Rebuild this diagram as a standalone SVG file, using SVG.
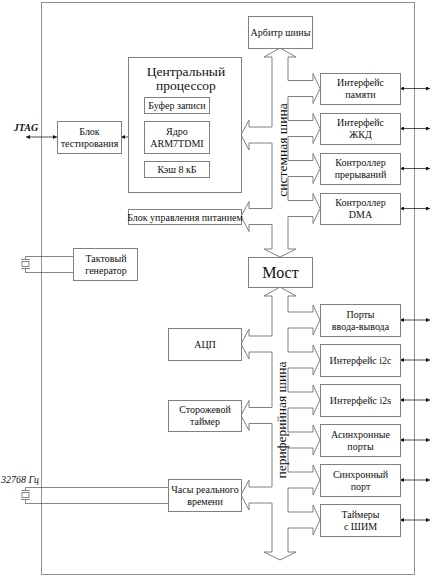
<svg xmlns="http://www.w3.org/2000/svg" width="433" height="578" viewBox="0 0 433 578" font-family="'Liberation Serif', 'DejaVu Serif', serif">
<defs>
<style>
.box{fill:#fff;stroke:#808080;stroke-width:1}
.frame{fill:#fff;stroke:#909090;stroke-width:1}
.bus{fill:#fff;stroke:#808080;stroke-width:1;stroke-linejoin:miter}
text{font-family:'Liberation Serif','DejaVu Serif',serif}
.t{font-size:10px;fill:#111;text-anchor:middle}
.big{font-size:13.5px}
.most{font-size:16px}
.it{font-style:italic;font-size:10px}
.b{font-weight:bold}
.ar{stroke:#222;stroke-width:0.8;fill:none;marker-start:url(#ah);marker-end:url(#ah)}
.wire{stroke:#666;stroke-width:0.8;fill:none}
</style>
<marker id="ah" viewBox="0 0 6 6" refX="6" refY="3" markerWidth="5" markerHeight="4" markerUnits="userSpaceOnUse" orient="auto-start-reverse">
<path d="M0,0 L6,3 L0,6 z" fill="#111"/>
</marker>
</defs>
<rect width="433" height="578" fill="#fff"/>
<rect class="frame" x="41.5" y="2.5" width="373" height="572"/>

<g id="connectors">
<path id="system-bus" class="bus" d="M280,48 L296,57 L288,57 L288,80.5 L313,80.5 L313,73.5 L320,88.5 L313,103.5 L313,96.5 L288,96.5 L288,120.5 L313,120.5 L313,113.5 L320,128.5 L313,143.5 L313,136.5 L288,136.5 L288,160.5 L313,160.5 L313,153.5 L320,168.5 L313,183.5 L313,176.5 L288,176.5 L288,200.5 L313,200.5 L313,193.5 L320,208.5 L313,223.5 L313,216.5 L288,216.5 L288,249 L296,249 L280,257 L264,249 L272,249 L272,224.5 L249,224.5 L249,231.5 L241,216.5 L249,201.5 L249,208.5 L272,208.5 L272,143 L249,143 L249,150 L241,135 L249,120 L249,127 L272,127 L272,57 L264,57 Z"/>
<path id="periph-bus" class="bus" d="M280,287 L296,296 L288,296 L288,312 L313,312 L313,305 L320,320 L313,335 L313,328 L288,328 L288,352 L313,352 L313,345 L320,360 L313,375 L313,368 L288,368 L288,392 L313,392 L313,385 L320,400 L313,415 L313,408 L288,408 L288,432 L313,432 L313,425 L320,440 L313,455 L313,448 L288,448 L288,472 L313,472 L313,465 L320,480 L313,495 L313,488 L288,488 L288,512 L313,512 L313,505 L320,520 L313,535 L313,528 L288,528 L288,552 L296,552 L280,560 L264,552 L272,552 L272,503 L249,503 L249,510 L241,495 L249,480 L249,487 L272,487 L272,423.5 L249,423.5 L249,430.5 L241,415.5 L249,400.5 L249,407.5 L272,407.5 L272,352 L249,352 L249,359 L241,344 L249,329 L249,336 L272,336 L272,296 L264,296 Z"/>
<line class="ar" x1="26" y1="137" x2="57" y2="137"/>
<line class="ar" x1="121" y1="137" x2="144" y2="137"/>
<line class="ar" x1="209" y1="105" x2="223" y2="105"/>
<line class="ar" x1="209" y1="137" x2="223" y2="137"/>
<line class="ar" x1="209" y1="169" x2="223" y2="169"/>
<line class="ar" x1="400" y1="88.5" x2="430" y2="88.5"/>
<line class="ar" x1="400" y1="128.5" x2="430" y2="128.5"/>
<line class="ar" x1="400" y1="168.5" x2="430" y2="168.5"/>
<line class="ar" x1="400" y1="208.5" x2="430" y2="208.5"/>
<line class="ar" x1="400" y1="320" x2="430" y2="320"/>
<line class="ar" x1="400" y1="360" x2="430" y2="360"/>
<line class="ar" x1="400" y1="400" x2="430" y2="400"/>
<line class="ar" x1="400" y1="440" x2="430" y2="440"/>
<line class="ar" x1="400" y1="480" x2="430" y2="480"/>
<line class="ar" x1="400" y1="520" x2="430" y2="520"/>
<path class="wire" d="M73,256.5 H25.5 V259.5 M21,259.5 H30 M21,268.5 H30 M25.5,268.5 V272.5 H73"/>
<rect class="wire" x="22" y="261.5" width="7" height="5"/>
<path class="wire" d="M168,487.5 H25.5 V490.5 M21,490.5 H30 M21,499.5 H30 M25.5,499.5 V503.5 H168"/>
<rect class="wire" x="22" y="492.5" width="7" height="5"/>
<rect x="222.5" y="89" width="3" height="95" fill="#000"/>
</g>

<text class="t big" transform="translate(287,150) rotate(-90)">системная шина</text>
<text class="t big" transform="translate(286,420) rotate(-90)">периферийная шина</text>
<text class="t it b" x="26" y="131">JTAG</text>
<text class="t it" x="20" y="483">32768 Гц</text>

<g id="cpu">
<rect class="box" x="128.5" y="57.5" width="113" height="135"/>
<text class="t big" x="186" y="76">Центральный</text>
<text class="t big" x="186" y="90">процессор</text>
</g>
<g id="write-buffer"><rect class="box" x="144.5" y="97.5" width="65" height="16"/><text class="t" x="177" y="108.5">Буфер записи</text></g>
<g id="core"><rect class="box" x="144.5" y="121.5" width="65" height="32"/><text class="t" x="177" y="135">Ядро</text><text class="t" x="177" y="147">ARM7TDMI</text></g>
<g id="cache"><rect class="box" x="144.5" y="161.5" width="65" height="16"/><text class="t" x="177" y="172.5">Кэш 8 кБ</text></g>
<g id="test"><rect class="box" x="57.5" y="121.5" width="64" height="32"/><text class="t" x="89.5" y="135">Блок</text><text class="t" x="89.5" y="147">тестирования</text></g>
<g id="power"><rect class="box" x="128.5" y="209.5" width="113" height="15"/><text class="t" x="185" y="220.5">Блок управления питанием</text></g>
<g id="clockgen"><rect class="box" x="73.5" y="248.5" width="64" height="32"/><text class="t" x="106" y="262">Тактовый</text><text class="t" x="106" y="274">генератор</text></g>
<g id="arbiter"><rect class="box" x="248.5" y="16.5" width="64" height="32"/><text class="t" x="280.5" y="36">Арбитр шины</text></g>
<g id="bridge"><rect class="box" x="248.5" y="257.5" width="64" height="30"/><text class="t most" x="280.5" y="278">Мост</text></g>
<g id="mem"><rect class="box" x="320.5" y="73.5" width="80" height="31"/><text class="t" x="360.5" y="86">Интерфейс</text><text class="t" x="360.5" y="98">памяти</text></g>
<g id="lcd"><rect class="box" x="320.5" y="113.5" width="80" height="31"/><text class="t" x="360.5" y="126">Интерфейс</text><text class="t" x="360.5" y="138">ЖКД</text></g>
<g id="irq"><rect class="box" x="320.5" y="153.5" width="80" height="31"/><text class="t" x="360.5" y="166">Контроллер</text><text class="t" x="360.5" y="178">прерываний</text></g>
<g id="dma"><rect class="box" x="320.5" y="193.5" width="80" height="31"/><text class="t" x="360.5" y="206">Контроллер</text><text class="t" x="360.5" y="218">DMA</text></g>
<g id="gpio"><rect class="box" x="320.5" y="304.5" width="80" height="32"/><text class="t" x="360.5" y="317.5">Порты</text><text class="t" x="360.5" y="329.5">ввода-вывода</text></g>
<g id="i2c"><rect class="box" x="320.5" y="344.5" width="80" height="32"/><text class="t" x="360.5" y="364">Интерфейс i2c</text></g>
<g id="i2s"><rect class="box" x="320.5" y="384.5" width="80" height="32"/><text class="t" x="360.5" y="404">Интерфейс i2s</text></g>
<g id="uart"><rect class="box" x="320.5" y="424.5" width="80" height="32"/><text class="t" x="360.5" y="437.5">Асинхронные</text><text class="t" x="360.5" y="449.5">порты</text></g>
<g id="sync"><rect class="box" x="320.5" y="464.5" width="80" height="32"/><text class="t" x="360.5" y="477.5">Синхронный</text><text class="t" x="360.5" y="489.5">порт</text></g>
<g id="pwm"><rect class="box" x="320.5" y="504.5" width="80" height="32"/><text class="t" x="360.5" y="517.5">Таймеры</text><text class="t" x="360.5" y="529.5">с ШИМ</text></g>
<g id="adc"><rect class="box" x="168.5" y="328.5" width="73" height="32"/><text class="t" x="205" y="348">АЦП</text></g>
<g id="wdt"><rect class="box" x="168.5" y="400.5" width="73" height="31"/><text class="t" x="205" y="413">Сторожевой</text><text class="t" x="205" y="425">таймер</text></g>
<g id="rtc"><rect class="box" x="168.5" y="479.5" width="73" height="32"/><text class="t" x="205" y="492.5">Часы реального</text><text class="t" x="205" y="504.5">времени</text></g>
</svg>
